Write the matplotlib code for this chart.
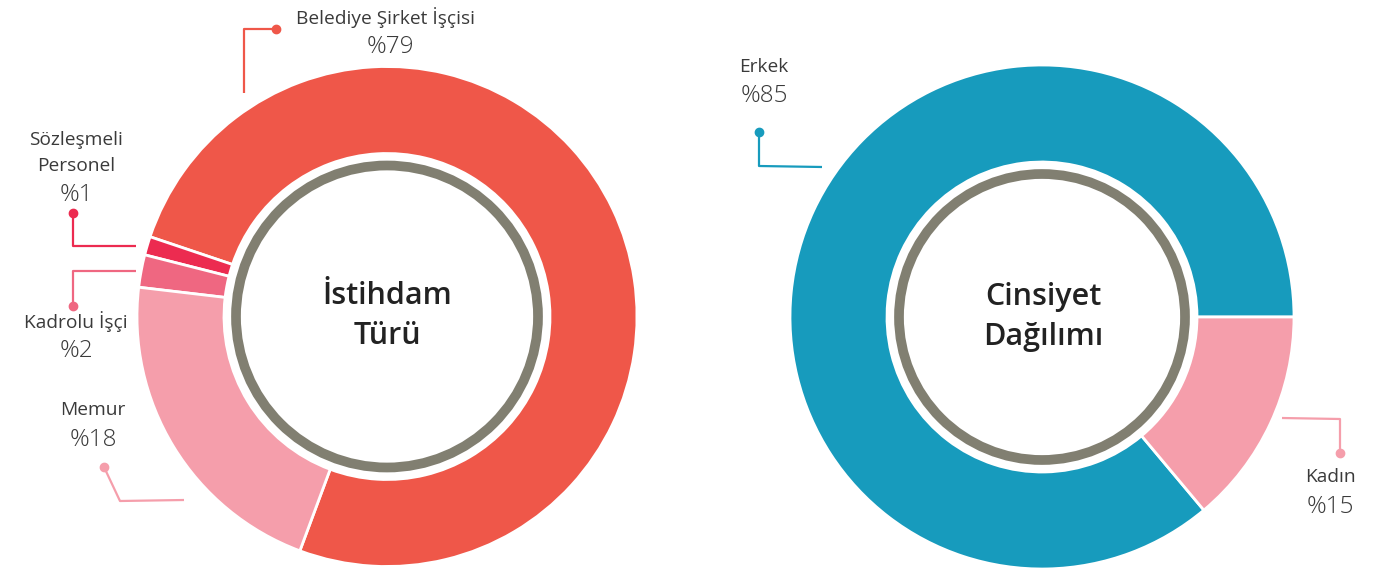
import matplotlib.pyplot as plt
from matplotlib.patches import Circle

# ==========================================
# DATA
# ==========================================

# left donut (wedge sizes as drawn, labels as printed)
job_types = ["Belediye Şirket İşçisi", "Sözleşmeli\nPersonel", "Kadrolu İşçi", "Memur"]
job_shares = [75.5, 1.2, 2.1, 21.2]
job_pct = ["%79", "%1", "%2", "%18"]
job_colors = ["#EF5749", "#EC2B50", "#EF6781", "#F59EAB"]

# right donut
gender = ["Erkek", "Kadın"]
gender_shares = [86.1, 13.9]
gender_pct = ["%85", "%15"]
gender_colors = ["#179BBD", "#F59EAB"]

# ==========================================
# LAYOUT
# ==========================================
W, H = 1386, 569
RING_GRAY = "#817F71"
TXT = "#3A3A3A"
FONT = "Open Sans"

fig = plt.figure(figsize=(W / 100, H / 100), dpi=100)
ax = fig.add_axes([0, 0, 1, 1])


def draw_donut(center, radius, inner, shares, colors, startangle, ring_r):
    ax.pie(shares, colors=colors, startangle=startangle, counterclock=True,
           center=center, radius=radius,
           wedgeprops=dict(width=radius - inner, edgecolor="white", linewidth=2))
    ax.add_patch(Circle(center, ring_r, fill=False, edgecolor=RING_GRAY, linewidth=7))


def leader(points, color):
    # points given in image coords (y down), first point is the dot
    xs = [p[0] for p in points]
    ys = [H - p[1] for p in points]
    ax.plot(xs, ys, color=color, lw=1.6, solid_capstyle="butt")
    ax.plot(xs[0], ys[0], "o", color=color, ms=6)


def label(x, y_name, name, y_pct, pct, x_pct=None):
    ax.text(x, H - y_name, name, ha="center", va="center", fontsize=13.8,
            color=TXT, family=FONT, linespacing=1.55)
    ax.text(x if x_pct is None else x_pct, H - y_pct, pct, ha="center", va="center",
            fontsize=17.5, color=TXT, family=FONT, fontweight="light")


# left donut: Belediye, Sözleşmeli, Kadrolu, Memur
draw_donut((387, H - 316.5), 250, 163, job_shares, job_colors, 249.6, 151)
ax.text(387, H - 316, "İstihdam\nTürü", ha="center", va="center", fontsize=22,
        fontweight="semibold", color="#222222", family=FONT, linespacing=1.4)

# right donut: Erkek, Kadın
draw_donut((1042, H - 317), 252, 155, gender_shares, gender_colors, 0, 143)
ax.text(1043, H - 317, "Cinsiyet\nDağılımı", ha="center", va="center", fontsize=22,
        fontweight="semibold", color="#222222", family=FONT, linespacing=1.4)

# labels and leader lines
label(385, 18, job_types[0], 47, job_pct[0], x_pct=390)
leader([(276, 29), (244, 29), (244, 93)], job_colors[0])

label(76, 153, job_types[1], 195, job_pct[1])
leader([(73, 213), (73, 246), (136, 246)], job_colors[1])

label(76, 322, job_types[2], 351, job_pct[2])
leader([(73, 306), (73, 271), (136, 271)], job_colors[2])

label(93, 410, job_types[3], 440, job_pct[3])
leader([(104, 467), (120, 501), (184, 500)], job_colors[3])

label(764, 67, gender[0], 96, gender_pct[0])
leader([(759, 132), (759, 166), (822, 167)], gender_colors[0])

label(1330, 477, gender[1], 507, gender_pct[1])
leader([(1340, 453), (1340, 419), (1282, 418)], gender_colors[1])

ax.set_xlim(0, W)
ax.set_ylim(0, H)
ax.set_aspect("equal")
ax.axis("off")

fig.savefig("out.png", dpi=100)
plt.close()
